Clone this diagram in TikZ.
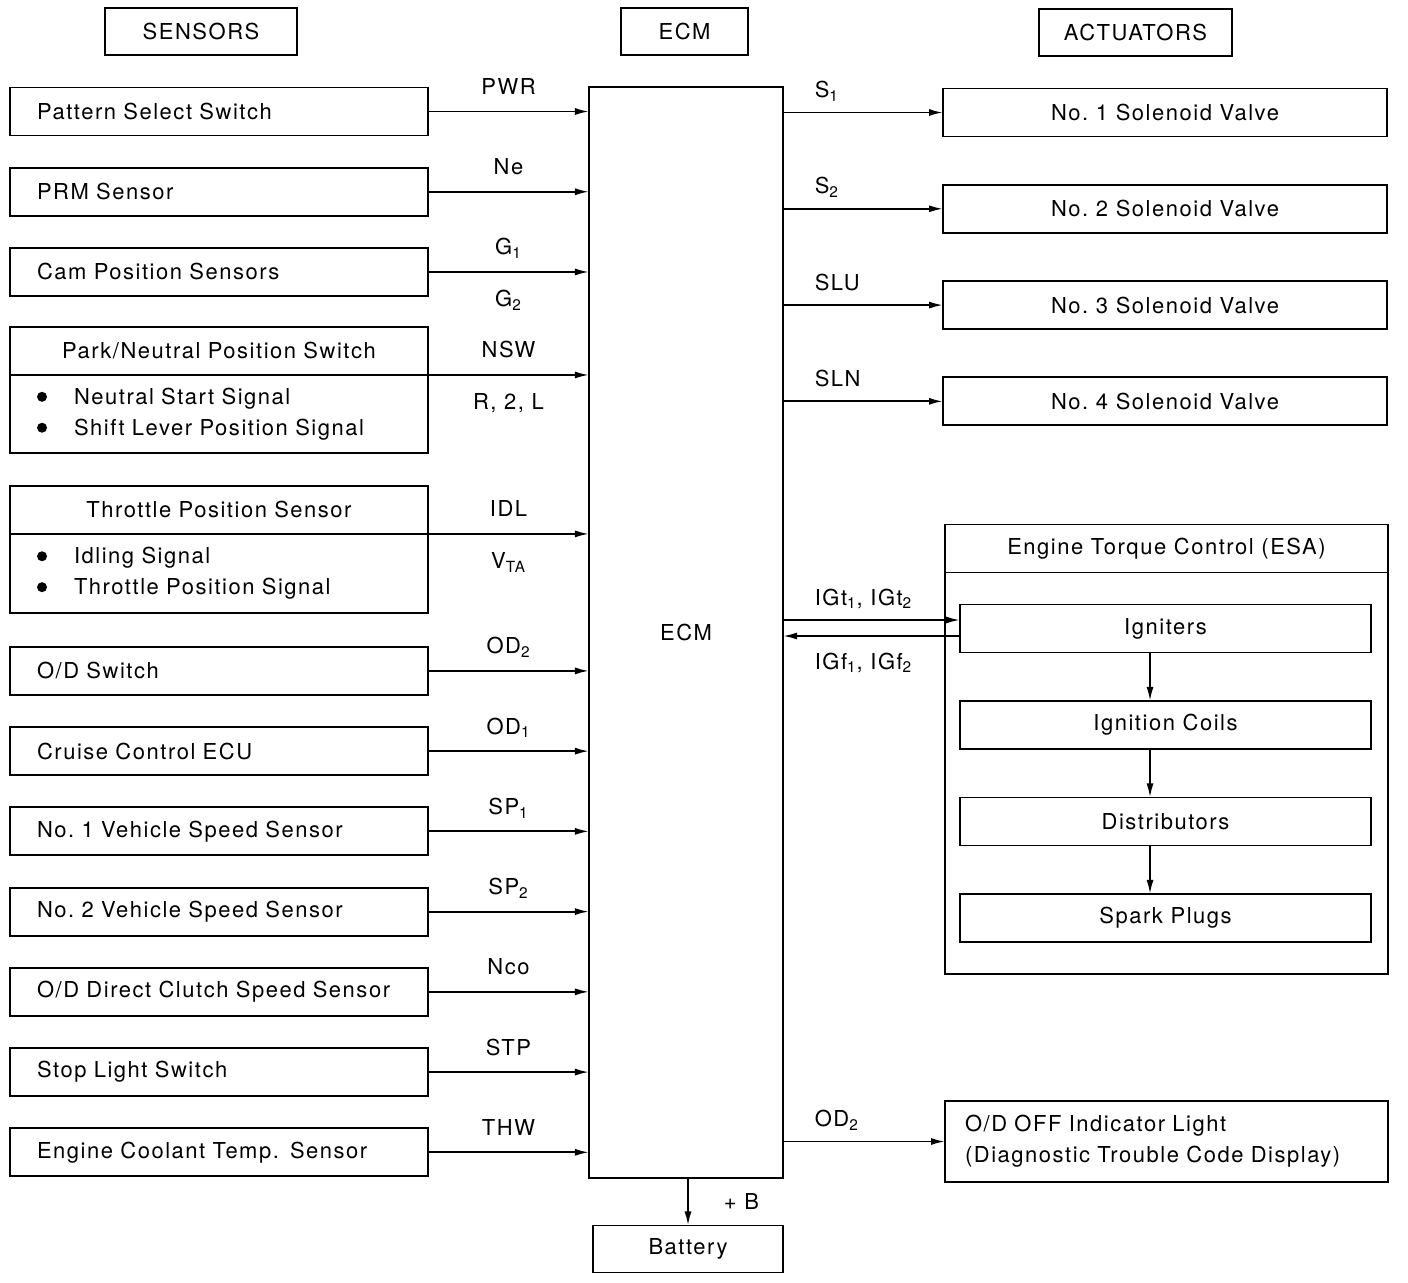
\documentclass[tikz,border=0pt]{standalone}
\usepackage{fontspec}
\setmainfont{TeX Gyre Heros}[LetterSpace=7]
\usetikzlibrary{positioning, arrows.meta}
\newcommand{\blt}{\makebox[0.74cm][l]{\tikz[baseline]\fill (0.14cm,0.15cm) circle (0.1cm);}}
\tikzset{every node/.style={font=\fontsize{12.5}{17.6}\selectfont},
	box/.style={draw, line width=1.1pt, minimum height=0.96cm, inner sep=0pt, outer sep=0pt},
	sig/.style={line width=1.1pt, -{Latex[length=8pt,width=4pt]}}}
\begin{document}
\begin{tikzpicture}[x=0.02cm, y=-0.02cm,
	sensor/.style={box, minimum width=8.36cm, text width=7.28cm, inner xsep=0.54cm, align=left, node distance=1.605cm},
	actuator/.style={box, minimum width=8.88cm, node distance=1.926cm},
	part/.style={box, minimum width=8.22cm, node distance=1.93cm},
	head/.style={box, minimum height=0.94cm},
	lbl/.style={anchor=base, yshift=0.34cm},
	lblb/.style={anchor=base, yshift=-0.7cm},
	rlbl/.style={anchor=base west, xshift=0.5cm, yshift=0.3cm}]
	\useasboundingbox (0,0) rectangle (1408,1282);

	\node[head, minimum width=3.84cm] (hsen) at (201,31.5) {SENSORS};
	\node[head, minimum width=2.54cm] (hecm) at (684.5,31.5) {ECM};
	\node[head, minimum width=3.86cm] (hact) at (1135.5,32.5) {ACTUATORS};

	\node[box, minimum width=3.88cm, minimum height=21.82cm] (ecm) at (686,632.5) {ECM};

	\node[sensor] (pss) at (219,111.5) {Pattern Select Switch};
	\node[sensor, below of=pss] (prm) {PRM Sensor};
	\node[sensor, below of=prm] (cam) {Cam Position Sensors};
	\node[sensor, below of=cam, node distance=1.58cm, align=center] (pns) {Park/Neutral Position Switch};
	\node[sensor, below=0pt of pns, minimum height=1.56cm] (pnsb) {\blt Neutral Start Signal\\
		\blt Shift Lever Position Signal};
	\node[sensor, below=0.66cm of pnsb, align=center] (tps) {Throttle Position Sensor};
	\node[sensor, below=0pt of tps, minimum height=1.58cm] (tpsb) {\blt Idling Signal\\
		\blt Throttle Position Signal};
	\node[sensor, below=0.68cm of tpsb] (ods) {O/D Switch};
	\node[sensor, below of=ods] (cce) {Cruise Control ECU};
	\node[sensor, below of=cce] (vss1) {No.~1 Vehicle Speed Sensor};
	\node[sensor, below of=vss1] (vss2) {No.~2 Vehicle Speed Sensor};
	\node[sensor, below of=vss2] (dcs) {O/D Direct Clutch Speed Sensor};
	\node[sensor, below of=dcs] (sls) {Stop Light Switch};
	\node[sensor, below of=sls] (cts) {Engine Coolant Temp. Sensor};

	\draw[sig] (pss.east) -- (pss.east -| ecm.west) node[lbl, midway]{PWR};
	\draw[sig] (prm.east) -- (prm.east -| ecm.west) node[lbl, midway]{Ne};
	\draw[sig] (cam.east) -- (cam.east -| ecm.west) node[lbl, midway]{G\textsubscript{1}} node[lblb, midway]{G\textsubscript{2}};
	\draw[sig] (pns.south east) -- (pns.south east -| ecm.west) node[lbl, midway]{NSW} node[lblb, midway]{R, 2, L};
	\draw[sig] (tps.south east) -- (tps.south east -| ecm.west) node[lbl, midway]{IDL} node[lblb, midway]{V\textsubscript{TA}};
	\draw[sig] (ods.east) -- (ods.east -| ecm.west) node[lbl, midway]{OD\textsubscript{2}};
	\draw[sig] (cce.east) -- (cce.east -| ecm.west) node[lbl, midway]{OD\textsubscript{1}};
	\draw[sig] (vss1.east) -- (vss1.east -| ecm.west) node[lbl, midway]{SP\textsubscript{1}};
	\draw[sig] (vss2.east) -- (vss2.east -| ecm.west) node[lbl, midway]{SP\textsubscript{2}};
	\draw[sig] (dcs.east) -- (dcs.east -| ecm.west) node[lbl, midway]{Nco};
	\draw[sig] (sls.east) -- (sls.east -| ecm.west) node[lbl, midway]{STP};
	\draw[sig] (cts.east) -- (cts.east -| ecm.west) node[lbl, midway]{THW};

	\node[actuator] (sol1) at (1165,112.5) {No.~1 Solenoid Valve};
	\node[actuator, below of=sol1] (sol2) {No.~2 Solenoid Valve};
	\node[actuator, below of=sol2] (sol3) {No.~3 Solenoid Valve};
	\node[actuator, below of=sol3] (sol4) {No.~4 Solenoid Valve};

	\draw[sig] (ecm.east |- sol1.west) -- (sol1.west) node[rlbl, pos=0]{S\textsubscript{1}};
	\draw[sig] (ecm.east |- sol2.west) -- (sol2.west) node[rlbl, pos=0]{S\textsubscript{2}};
	\draw[sig] (ecm.east |- sol3.west) -- (sol3.west) node[rlbl, pos=0]{SLU};
	\draw[sig] (ecm.east |- sol4.west) -- (sol4.west) node[rlbl, pos=0]{SLN};

	\node[actuator, minimum width=8.86cm] (esa) at (1166.5,548.5) {Engine Torque Control (ESA)};
	\node[actuator, minimum width=8.86cm, below=0pt of esa, minimum height=8.04cm] (esab) {};
	\node[part] (ign) at (1165.5,628.5) {Igniters};
	\node[part, below of=ign] (coil) {Ignition Coils};
	\node[part, below of=coil] (dist) {Distributors};
	\node[part, below of=dist] (plug) {Spark Plugs};
	\foreach \a/\b in {ign/coil, coil/dist, dist/plug}
		\draw[sig] ([xshift=-0.31cm]\a.south) -- ([xshift=-0.31cm]\b.north);

	\coordinate (igt) at ([yshift=0.17cm]ign.west);
	\coordinate (igf) at ([yshift=-0.15cm]ign.west);
	\draw[sig] (ecm.east |- igt) -- (igt) node[rlbl, pos=0]{IGt\textsubscript{1}, IGt\textsubscript{2}};
	\draw[sig] (igf) -- (ecm.east |- igf) node[pos=1, anchor=base west, xshift=0.5cm, yshift=-0.66cm]{IGf\textsubscript{1}, IGf\textsubscript{2}};

	\node[box, minimum width=8.86cm, minimum height=1.62cm, text width=8.06cm, inner xsep=0.4cm, align=left] (odl) at (1166.5,1141.5)
		{O/D OFF Indicator Light\\(Diagnostic Trouble Code Display)};
	\draw[sig] (ecm.east |- odl.west) -- (odl.west) node[rlbl, pos=0]{OD\textsubscript{2}};

	\node[box, minimum width=3.8cm, minimum height=0.94cm] (bat) at (688,1249) {Battery};
	\draw[sig] (ecm.south -| bat.north) -- (bat.north) node[midway, anchor=west, xshift=0.58cm]{+ B};
\end{tikzpicture}
\end{document}
